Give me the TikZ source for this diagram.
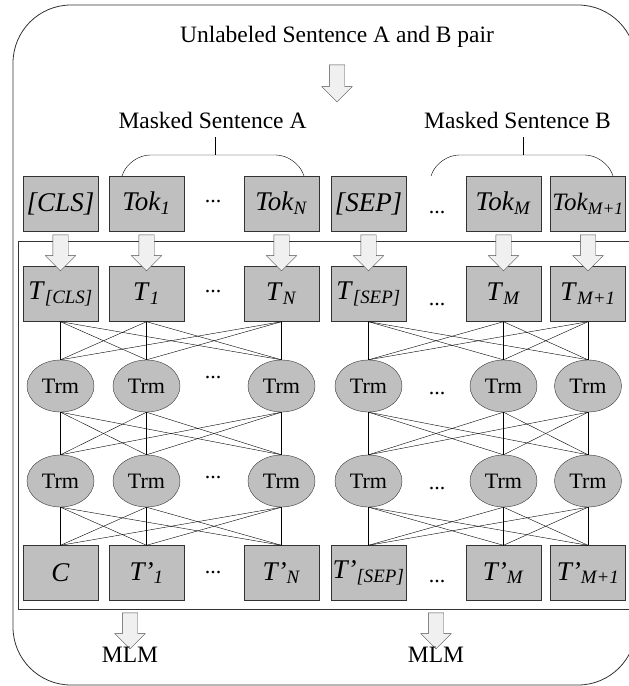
\documentclass[tikz,border=0pt]{standalone}
\usepackage{fontspec}
\setmainfont{Liberation Serif}
\usetikzlibrary{shapes.geometric,shapes.arrows}

\newcommand{\ix}[1]{\textsubscript{\textit{#1}}}

\tikzset{
  box/.style={draw=black!80, fill=black!25, minimum width=75pt, minimum height=55pt,
    inner sep=1pt, font=\fontsize{27}{28}\selectfont},
  trm/.style={ellipse, draw=black!80, fill=black!25, minimum width=67pt, minimum height=52pt,
    inner sep=0pt, font=\fontsize{22}{24}\selectfont},
  fat/.style={single arrow, shape border rotate=270, draw=black!70, fill=black!6,
    minimum width=30pt, minimum height=36pt, single arrow head extend=7.5pt, inner sep=7.5pt},
  dots/.style={font=\fontsize{22}{24}\selectfont, inner sep=0pt},
  big/.style={font=\fontsize{23.5}{26}\selectfont, inner sep=0pt, anchor=base}
}

\begin{document}
\begin{tikzpicture}[x=1pt, y=-1pt]
\useasboundingbox (0,0) rectangle (629,686);
\clip (0,0) rectangle (629,686);

% frames
\draw[black!80, thick, rounded corners=58pt] (13,5) rectangle (636,685);
\draw[black!80] (18,241) rectangle (640,609);

% texts on top
\node[big] (pair) at (337,42) {Unlabeled Sentence A and B pair};
\node[fat, minimum height=37pt] (down) at (337,79.5) {};
\node[big] (maskA) at (212.5,128) {Masked Sentence A};
\node[big] (maskB) at (517.5,128) {Masked Sentence B};

% braces
\coordinate (braceA) at (215,155);
\coordinate (tickA) at (215,137);
\coordinate (braceB) at (523,155);
\coordinate (tickB) at (523,137);
\draw[rounded corners=20pt] (122,176) -- (130,155) -- (296,155) -- (304,176);
\draw[rounded corners=20pt] (431,176) -- (439,155) -- (605,155) -- (613,176);
\draw (braceA) -- (tickA) (braceB) -- (tickB);

% input tokens
\node[box] (tok1) at (60.5,203.5) {\textit{[CLS]}};
\node[box] (tok2) at (146.5,203.5) {\textit{Tok}\ix{1}};
\node[box] (tok3) at (281.5,203.5) {\textit{Tok}\ix{N}};
\node[box] (tok4) at (368.5,203.5) {\textit{[SEP]}};
\node[box] (tok5) at (503.5,203.5) {\textit{Tok}\ix{M}};
\node[box, font=\fontsize{25}{26}\selectfont] (tok6) at (588,203.5) {\textit{Tok}\ix{M+1}};

% embeddings
\node[box] (t1) at (60.5,294) {\textit{T}\ix{[CLS]}};
\node[box] (t2) at (146.5,294) {\textit{T}\ix{1}};
\node[box] (t3) at (281.5,294) {\textit{T}\ix{N}};
\node[box] (t4) at (368.5,294) {\textit{T}\ix{[SEP]}};
\node[box] (t5) at (503.5,294) {\textit{T}\ix{M}};
\node[box] (t6) at (588,294) {\textit{T}\ix{M+1}};

\foreach \k/\x in {1/60.5,2/146.5,3/281.5,4/368.5,5/503.5,6/588}
  \node[fat] (in\k) at (\x,249) {};

% transformer layers
\node[trm] (ra1) at (60.5,386) {Trm};
\node[trm] (ra2) at (146.5,386) {Trm};
\node[trm] (ra3) at (281.5,386) {Trm};
\node[trm] (ra4) at (368.5,386) {Trm};
\node[trm] (ra5) at (503.5,386) {Trm};
\node[trm] (ra6) at (588,386) {Trm};

\node[trm] (rb1) at (60.5,481) {Trm};
\node[trm] (rb2) at (146.5,481) {Trm};
\node[trm] (rb3) at (281.5,481) {Trm};
\node[trm] (rb4) at (368.5,481) {Trm};
\node[trm] (rb5) at (503.5,481) {Trm};
\node[trm] (rb6) at (588,481) {Trm};

% outputs
\node[box] (o1) at (60.5,573) {\textit{C}};
\node[box] (o2) at (146.5,573) {\textit{T'}\ix{1}};
\node[box] (o3) at (281.5,573) {\textit{T'}\ix{N}};
\node[box] (o4) at (368.5,573) {\textit{T'}\ix{[SEP]}};
\node[box] (o5) at (503.5,573) {\textit{T'}\ix{M}};
\node[box] (o6) at (588,573) {\textit{T'}\ix{M+1}};

\foreach \i in {1,2,3} \foreach \j in {1,2,3}
  \draw (t\i.south) -- (ra\j.north) (ra\i.south) -- (rb\j.north) (rb\i.south) -- (o\j.north);
\foreach \i in {4,5,6} \foreach \j in {4,5,6}
  \draw (t\i.south) -- (ra\j.north) (ra\i.south) -- (rb\j.north) (rb\i.south) -- (o\j.north);

% dots
\node[dots] (d1) at (213,202) {...};
\node[dots] (d2) at (213,292) {...};
\node[dots] (d3) at (213,378) {...};
\node[dots] (d4) at (213,478) {...};
\node[dots] (d5) at (213,573) {...};
\node[dots] (e1) at (437,213) {...};
\node[dots] (e2) at (437,305) {...};
\node[dots] (e3) at (437,394) {...};
\node[dots] (e4) at (437,489) {...};
\node[dots] (e5) at (437,582) {...};

% outputs to MLM
\node[fat] (outA) at (130,627) {};
\node[fat] (outB) at (436,627) {};
\node[big] (mlmA) at (130,662) {MLM};
\node[big] (mlmB) at (436,662) {MLM};
\end{tikzpicture}
\end{document}
